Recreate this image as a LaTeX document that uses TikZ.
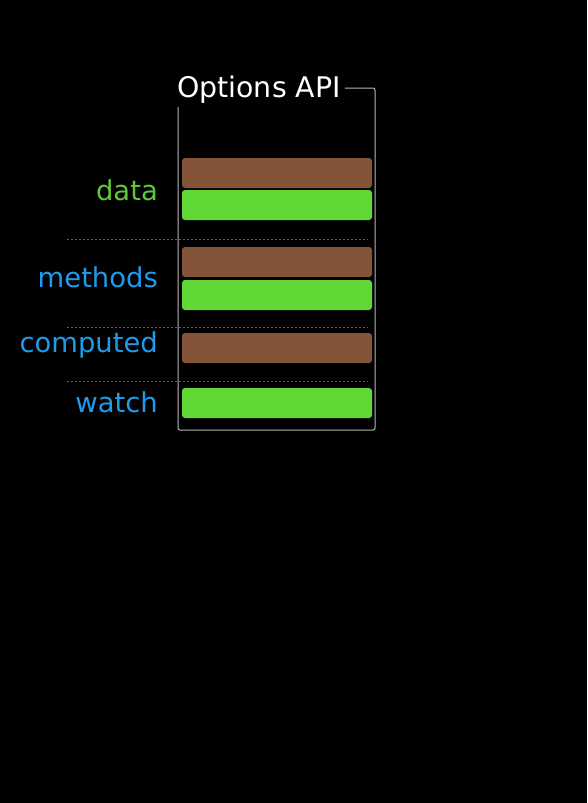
\documentclass[tikz,border=0pt]{standalone}
\usepackage{fontspec}
\setmainfont{DejaVu Sans}
\definecolor{barbrown}{HTML}{835438}
\definecolor{bargreen}{HTML}{61D836}
\definecolor{lblblue}{HTML}{1E9BEB}
\definecolor{lblgreen}{HTML}{61C83A}
\definecolor{framegray}{HTML}{B8B8B8}
\definecolor{dotgray}{HTML}{606060}
\begin{document}
\begin{tikzpicture}[x=1pt,y=-1pt,
  bar/.style={rounded corners=3pt, draw=none},
  brownbar/.style={bar, fill=barbrown},
  greenbar/.style={bar, fill=bargreen},
  lbl/.style={anchor=east, inner sep=0pt, font=\fontsize{27.4}{32}\selectfont},
  sep/.style={dotgray, dash pattern=on 2pt off 2pt, line width=0.9pt}]
\fill[black] (0,0) rectangle (587,803);
\useasboundingbox (0,0) rectangle (587,803);
% frame
\node[anchor=base west, inner sep=0pt, text=white, font=\fontsize{28.4}{33}\selectfont] (title) at (177,97) {Options API};
\coordinate (tr) at (375,88);
\coordinate (bl) at (178,430);
\draw[framegray, line width=1pt, rounded corners=2pt]
  (title.east |- tr) ++(4,0) -- (tr) -- (tr |- bl) -- (bl) -- (178,107);
% separators
\draw[sep] (67,239) -- (368,239);
\draw[sep] (67,327) -- (368,327);
\draw[sep] (67,381) -- (368,381);
% bars
\fill[brownbar] (182,158) rectangle (372,188);
\fill[greenbar] (182,190) rectangle (372,220);
\fill[brownbar] (182,247) rectangle (372,277);
\fill[greenbar] (182,280) rectangle (372,310);
\fill[brownbar] (182,333) rectangle (372,363);
\fill[greenbar] (182,388) rectangle (372,418);
% labels
\node[lbl, text=lblgreen] (data) at (158,190) {data};
\node[lbl, text=lblblue] (methods) at (158,277) {methods};
\node[lbl, text=lblblue] (computed) at (158,345) {computed};
\node[lbl, text=lblblue] (watch) at (158,402) {watch};
\end{tikzpicture}
\end{document}
